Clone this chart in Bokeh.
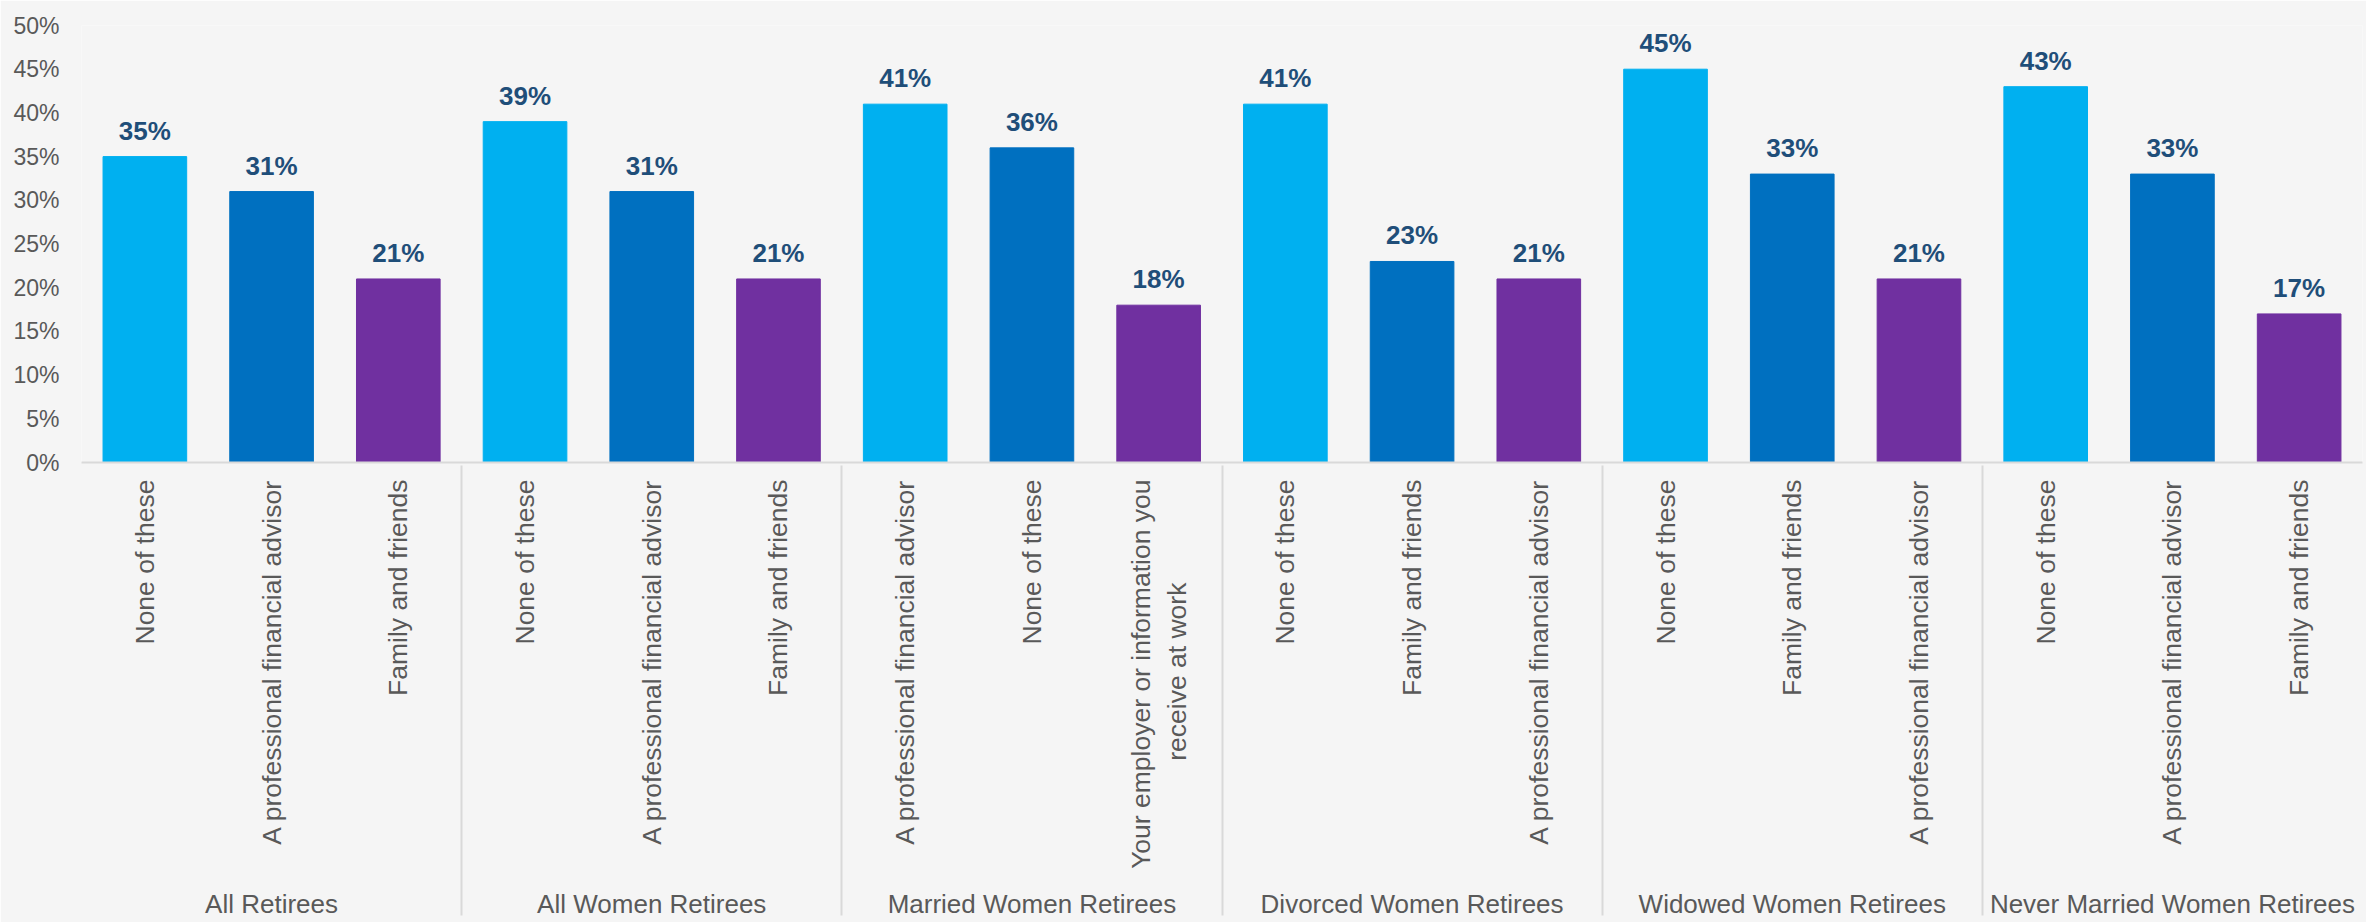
import math
from bokeh.plotting import figure
from bokeh.models import FactorRange, Range1d, FixedTicker, PrintfTickFormatter, ColumnDataSource, LabelSet
from bokeh.core.properties import value
from bokeh.embed import file_html
from bokeh.resources import INLINE

NB = "\u00a0"

groups = ["All Retirees", "All Women Retirees", "Married Women Retirees",
          "Divorced Women Retirees", "Widowed Women Retirees", "Never Married Women Retirees"]
answers = [
    ["None of these", "A professional financial advisor", "Family and friends"],
    ["None of these", "A professional financial advisor", "Family and friends"],
    ["A professional financial advisor", "None of these",
     "Your employer or information you\nreceive at work" + NB * 14],
    ["None of these", "Family and friends", "A professional financial advisor"],
    ["None of these", "Family and friends", "A professional financial advisor"],
    ["None of these", "A professional financial advisor", "Family and friends"],
]
values = [
    [35, 31, 21],
    [39, 31, 21],
    [41, 36, 18],
    [41, 23, 21],
    [45, 33, 21],
    [43, 33, 17],
]
rank_colors = ["#00B0F0", "#0070C0", "#7030A0"]
y_ticks = [0, 5, 10, 15, 20, 25, 30, 35, 40, 45, 50]

FONT = "Liberation Sans"
BG = "#F5F5F5"

xs, tops, cols, labs = [], [], [], []
for g, ans, vals in zip(groups, answers, values):
    for i, (a, v) in enumerate(zip(ans, vals)):
        xs.append((g, a))
        tops.append(v)
        cols.append(rank_colors[i])
        labs.append(f"{v}%")

src = ColumnDataSource(dict(x=xs, top=tops, color=cols, label=labs))

p = figure(
    x_range=FactorRange(*xs, group_padding=0, range_padding=0),
    y_range=Range1d(0, 50),
    width=2366, height=922,
    output_backend="svg", toolbar_location=None,
    min_border_left=81, min_border_right=4, min_border_top=25, min_border_bottom=460,
    background_fill_color=BG, border_fill_color=BG,
)
p.outline_line_color = None
p.grid.visible = False

p.vbar(x="x", top="top", width=0.66, color="color", source=src)

labels = LabelSet(x="x", y="top", text="label", source=src, y_offset=17,
                  text_align="center", text_baseline="alphabetic",
                  text_font=value(FONT), text_font_size="26px", text_font_style="bold",
                  text_color="#1F4E79")
p.add_layout(labels)

ya = p.yaxis[0]
ya.ticker = FixedTicker(ticks=y_ticks)
ya.formatter = PrintfTickFormatter(format="%d%%")
ya.axis_line_color = None
ya.major_tick_line_color = None
ya.minor_tick_line_color = None
ya.major_tick_out = 0
ya.major_label_standoff = 22
ya.major_label_text_font = FONT
ya.major_label_text_font_size = "23px"
ya.major_label_text_color = "#595959"

xa = p.xaxis[0]
xa.axis_line_color = "#D9D9D9"
xa.axis_line_width = 2
xa.major_tick_line_color = None
xa.minor_tick_line_color = None
xa.major_tick_out = 0
xa.major_label_orientation = math.pi / 2
xa.major_label_standoff = 17
xa.major_label_text_font = FONT
xa.major_label_text_font_size = "26.5px"
xa.major_label_text_color = "#595959"
xa.group_text_font = FONT
xa.group_text_font_size = "26px"
xa.group_text_font_style = "normal"
xa.group_text_color = "#595959"
xa.separator_line_color = "#D9D9D9"
xa.separator_line_width = 2

open("out.html", "w").write(file_html(p, INLINE))
